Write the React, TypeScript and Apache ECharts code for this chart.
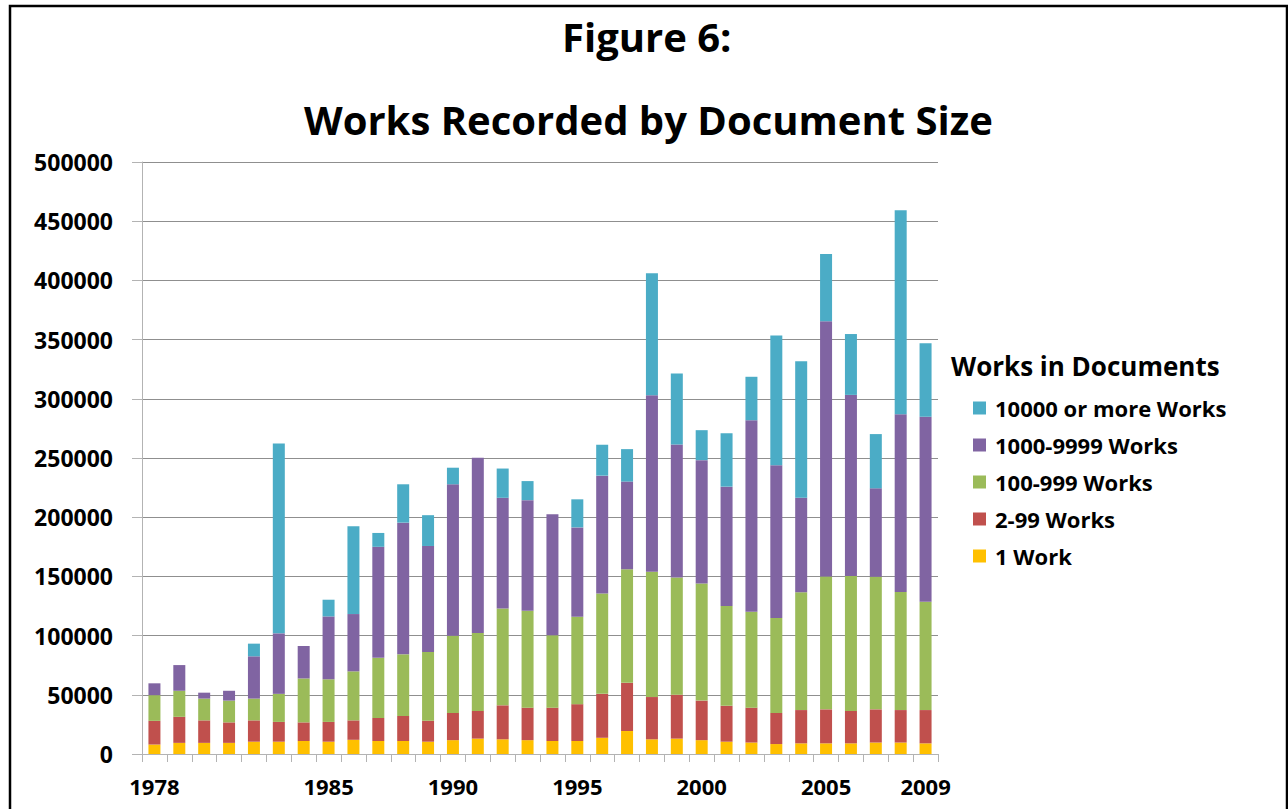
import React, { useEffect, useRef } from "react";
import * as echarts from "echarts";

const years = [
  "1978", "1979", "1980", "1981", "1982", "1983", "1984", "1985", "1986", "1987",
  "1988", "1989", "1990", "1991", "1992", "1993", "1994", "1995", "1996", "1997",
  "1998", "1999", "2000", "2001", "2002", "2003", "2004", "2005", "2006", "2007",
  "2008", "2009",
];
const shownYears = ["1978", "1985", "1990", "1995", "2000", "2005", "2009"];

const oneWork = [
  8000, 9400, 9400, 9400, 10400, 10400, 11000, 10400, 12000, 11000,
  11000, 10400, 11700, 13000, 12400, 11700, 11000, 11000, 13700, 19400,
  12400, 13000, 11700, 10400, 9700, 8400, 9000, 9000, 9000, 9700,
  9700, 9000,
];
const works2to99 = [
  20000, 22000, 19000, 17300, 18000, 16700, 15700, 16700, 16400, 19400,
  21100, 17700, 23000, 23400, 28700, 27400, 28100, 31100, 37100, 40700,
  35700, 37100, 33400, 30300, 29400, 26300, 28100, 28700, 27400, 28000,
  27400, 28100,
];
const works100to999 = [
  21700, 22000, 18400, 18400, 18400, 23700, 37100, 36000, 41400, 50800,
  52100, 58100, 65200, 65800, 81800, 81800, 61100, 73800, 84800, 95900,
  105900, 98900, 98900, 84200, 81100, 80200, 99500, 112300, 113900, 111900,
  99800, 91500,
];
const works1000to9999 = [
  10000, 21700, 5000, 8300, 35700, 51100, 27400, 53100, 48400, 93800,
  111200, 89500, 127900, 148000, 93500, 93500, 102200, 75500, 99500, 74100,
  148900, 112500, 104200, 100900, 161700, 128900, 79800, 215400, 153000, 74800,
  150000, 156300,
];
const works10000plus = [
  0, 0, 0, 0, 10700, 160300, 0, 14100, 74200, 11700,
  32400, 26000, 14000, 0, 24700, 16100, 0, 23700, 26100, 27400,
  103200, 59800, 25300, 45100, 36700, 109600, 115300, 56800, 51400, 45800,
  172400, 62100,
];

const seriesNames = ["1 Work", "2-99 Works", "100-999 Works", "1000-9999 Works", "10000 or more Works"];
const seriesColors = ["#FFC000", "#C0504D", "#9BBB59", "#8064A2", "#4BACC6"];
const seriesValues = [oneWork, works2to99, works100to999, works1000to9999, works10000plus];

const FONT = "'Open Sans', 'Noto Sans', sans-serif";

export default function App() {
  const ref = useRef<HTMLDivElement>(null);
  useEffect(() => {
    if (!ref.current) return;
    const chart = echarts.init(ref.current, null, { renderer: "svg" });
    chart.setOption({
      animation: false,
      backgroundColor: "#ffffff",
      textStyle: { fontFamily: FONT },
      title: [
        {
          text: "Figure 6:",
          left: 557,
          top: 11,
          textStyle: { fontFamily: FONT, fontSize: 40, fontWeight: "bold", color: "#000" },
        },
        {
          text: "Works Recorded by Document Size",
          left: 299,
          top: 94,
          textStyle: { fontFamily: FONT, fontSize: 40, fontWeight: "bold", color: "#000" },
        },
        {
          text: "Works in Documents",
          left: 946,
          top: 348,
          textStyle: { fontFamily: FONT, fontSize: 26, fontWeight: "bold", color: "#000" },
        },
      ],
      legend: {
        orient: "vertical",
        left: 968,
        top: 391,
        itemWidth: 13,
        itemHeight: 13,
        itemGap: 13,
        icon: "rect",
        data: seriesNames.slice().reverse(),
        textStyle: {
          fontFamily: FONT,
          fontSize: 22,
          fontWeight: "bold",
          color: "#000",
          lineHeight: 24,
          padding: [0, 0, 0, 4],
        },
      },
      grid: { left: 142, right: 350, top: 162, bottom: 55 },
      xAxis: {
        type: "category",
        data: years,
        axisLine: { lineStyle: { color: "#b3b3b3", width: 1 } },
        axisTick: { show: true, interval: 0, length: 8, lineStyle: { color: "#b3b3b3" } },
        axisLabel: {
          interval: (_i: number, v: string) => shownYears.includes(v),
          margin: 21,
          fontFamily: FONT,
          fontSize: 22,
          fontWeight: "bold",
          color: "#000",
        },
      },
      yAxis: {
        type: "value",
        min: 0,
        max: 500000,
        interval: 50000,
        axisLine: { show: true, lineStyle: { color: "#b3b3b3", width: 1 } },
        axisTick: { show: true, length: 10, lineStyle: { color: "#b3b3b3" } },
        splitLine: { lineStyle: { color: "#8f8f8f", width: 1 } },
        axisLabel: {
          margin: 29,
          formatter: (v: number) => String(v),
          fontFamily: FONT,
          fontSize: 23,
          fontWeight: "bold",
          color: "#000",
        },
      },
      series: seriesNames.map((name, i) => ({
        name,
        type: "bar",
        stack: "total",
        barWidth: 12,
        itemStyle: { color: seriesColors[i] },
        data: seriesValues[i],
      })),
      graphic: [
        {
          type: "rect",
          shape: { x: 10, y: 6, width: 1277, height: 900 },
          style: { fill: "none", stroke: "#000", lineWidth: 2.5 },
          silent: true,
        },
      ],
    });
    return () => chart.dispose();
  }, []);
  return (
    <div
      ref={ref}
      style={{ position: "absolute", left: 0, top: 0, width: 1288, height: 809 }}
    />
  );
}
